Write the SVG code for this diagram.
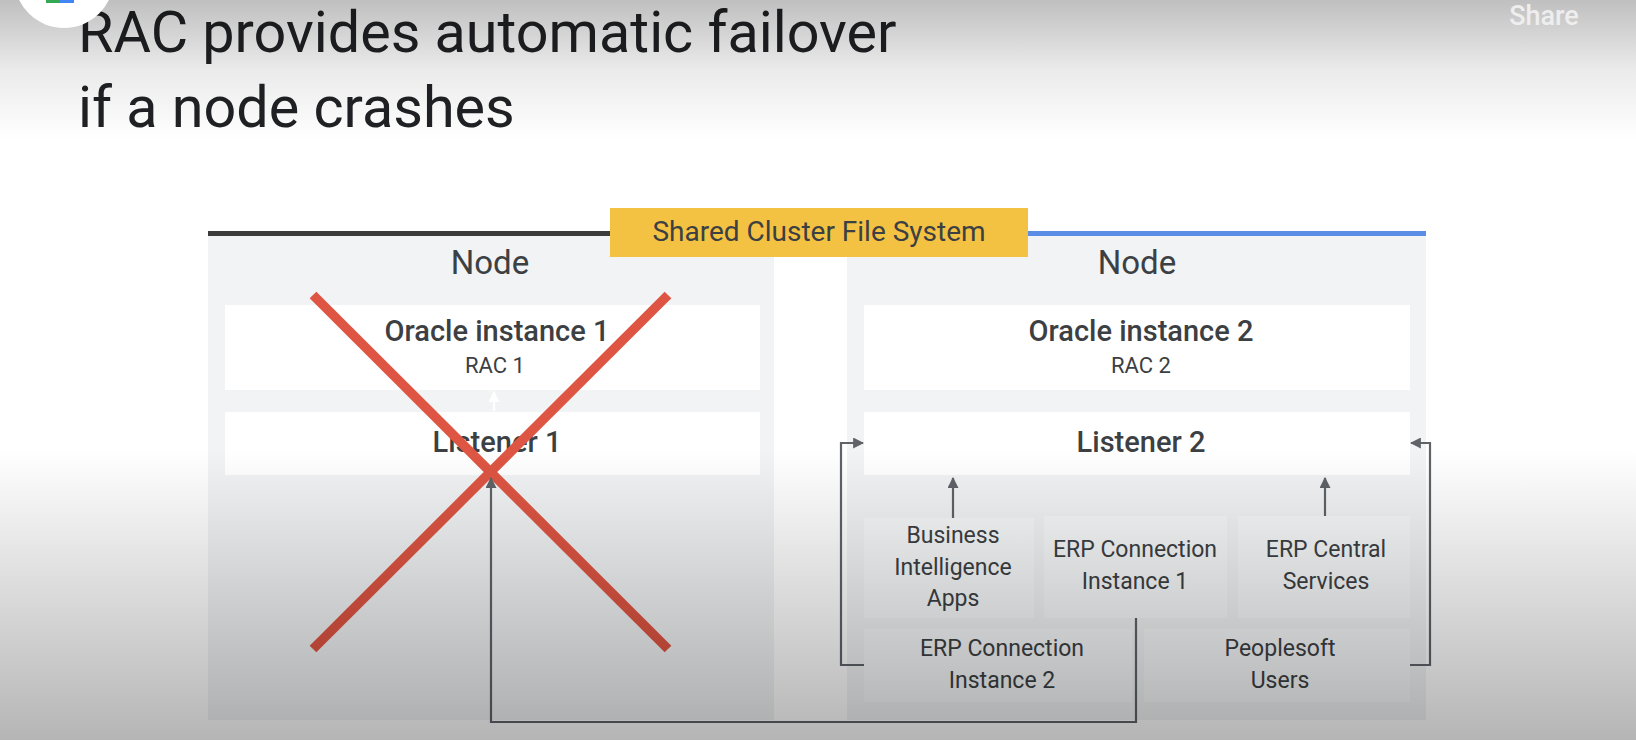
<svg xmlns="http://www.w3.org/2000/svg" width="1636" height="740" viewBox="0 0 1636 740">
<defs>
<linearGradient id="topShade" x1="0" y1="0" x2="0" y2="1">
<stop offset="0" stop-color="#000" stop-opacity="0.25"/>
<stop offset="0.5" stop-color="#000" stop-opacity="0.08"/>
<stop offset="1" stop-color="#000" stop-opacity="0"/>
</linearGradient>
<linearGradient id="botShade" x1="0" y1="0" x2="0" y2="1">
<stop offset="0" stop-color="#000" stop-opacity="0"/>
<stop offset="1" stop-color="#000" stop-opacity="0.29"/>
</linearGradient>
<marker id="arr" viewBox="0 0 10 10" refX="9" refY="5" markerWidth="5" markerHeight="5" orient="auto" markerUnits="strokeWidth">
<path d="M0,0 L10,5 L0,10 z" fill="#5f6368"/>
</marker>
<marker id="arrW" viewBox="0 0 10 10" refX="9" refY="5" markerWidth="5" markerHeight="5" orient="auto" markerUnits="strokeWidth">
<path d="M0,0 L10,5 L0,10 z" fill="#ffffff"/>
</marker>
</defs>
<style>
text{font-family:Roboto,"Liberation Sans",sans-serif;fill:#3c4043;text-anchor:middle}
.title{font-size:57.5px;fill:#202124;text-anchor:start}
.node{font-size:33px}
.bold{font-size:29px;font-weight:500}
.sub{font-size:22px}
.sm{font-size:23px}
.panel{fill:#f1f3f4}
.box{fill:#ffffff}
.sbox{fill:#f7f8f9}
.conn{fill:none;stroke:#5f6368;stroke-width:2.2}
</style>
<rect width="1636" height="740" fill="#ffffff"/>

<g id="title">
<text class="title" x="78" y="52">RAC provides automatic failover</text>
<text class="title" x="78" y="127">if a node crashes</text>
</g>

<g id="node1">
<rect class="panel" x="208" y="236" width="566" height="484"/>
<rect x="208" y="231" width="402" height="5" fill="#3c3c3c"/>
<text class="node" x="490" y="274">Node</text>
</g>
<g id="node2">
<rect class="panel" x="847" y="236" width="579" height="484"/>
<rect x="1028" y="231" width="398" height="5" fill="#5a8de6"/>
<text class="node" x="1137" y="274">Node</text>
</g>
<g id="sharedfs">
<rect x="610" y="208" width="418" height="49" fill="#f4c242"/>
<text x="819" y="241" style="font-size:28px">Shared Cluster File System</text>
</g>

<g id="oracle1">
<rect class="box" x="225" y="305" width="535" height="85"/>
<text class="bold" x="497" y="341">Oracle instance 1</text>
<text class="sub" x="495" y="373">RAC 1</text>
</g>
<g id="listener1">
<rect class="box" x="225" y="412" width="535" height="63"/>
<text class="bold" x="497" y="452">Listener 1</text>
</g>
<g id="oracle2">
<rect class="box" x="864" y="305" width="546" height="85"/>
<text class="bold" x="1141" y="341">Oracle instance 2</text>
<text class="sub" x="1141" y="373">RAC 2</text>
</g>
<g id="listener2">
<rect class="box" x="864" y="412" width="546" height="63"/>
<text class="bold" x="1141" y="452">Listener 2</text>
</g>

<g id="bi">
<rect class="sbox" x="864" y="518" width="170" height="100"/>
<text class="sm" x="953" y="543">Business</text>
<text class="sm" x="953" y="575">Intelligence</text>
<text class="sm" x="953" y="606">Apps</text>
</g>
<g id="erp1">
<rect class="sbox" x="1044" y="516" width="183" height="102"/>
<text class="sm" x="1135" y="557">ERP Connection</text>
<text class="sm" x="1135" y="589">Instance 1</text>
</g>
<g id="erpcentral">
<rect class="sbox" x="1238" y="516" width="172" height="102"/>
<text class="sm" x="1326" y="557">ERP Central</text>
<text class="sm" x="1326" y="589">Services</text>
</g>
<g id="erp2">
<rect class="sbox" x="864" y="629" width="268" height="73"/>
<text class="sm" x="1002" y="656">ERP Connection</text>
<text class="sm" x="1002" y="688">Instance 2</text>
</g>
<g id="peoplesoft">
<rect class="sbox" x="1144" y="629" width="266" height="73"/>
<text class="sm" x="1280" y="656">Peoplesoft</text>
<text class="sm" x="1280" y="688">Users</text>
</g>

<g id="crash">
<line x1="313" y1="295" x2="668" y2="649" stroke="#de5543" stroke-width="9.5"/>
<line x1="668" y1="295" x2="313" y2="649" stroke="#de5543" stroke-width="9.5"/>
</g>

<g id="connectors">
<line x1="494" y1="411" x2="494" y2="392" stroke="#ffffff" stroke-width="2.2" marker-end="url(#arrW)"/>
<path class="conn" d="M953,518 L953,478" marker-end="url(#arr)"/>
<path class="conn" d="M1325,516 L1325,478" marker-end="url(#arr)"/>
<path class="conn" d="M864,665 L841,665 L841,443 L863,443" marker-end="url(#arr)"/>
<path class="conn" d="M1410,665 L1430,665 L1430,443 L1411,443" marker-end="url(#arr)"/>
<path class="conn" d="M1136,618 L1136,722 L491,722 L491,478" marker-end="url(#arr)"/>
</g>

<g id="overlay">
<rect x="0" y="0" width="1636" height="140" fill="url(#topShade)"/>
<rect x="0" y="450" width="1636" height="290" fill="url(#botShade)"/>
<circle cx="64" cy="-22" r="50" fill="#ffffff"/>
<rect x="46" y="0" width="14" height="3" fill="#34a853"/>
<rect x="60" y="0" width="14" height="3" fill="#4285f4"/>
<text x="1544" y="25" style="font-size:27px;fill:#eeeeee;font-weight:500">Share</text>
</g>
</svg>
